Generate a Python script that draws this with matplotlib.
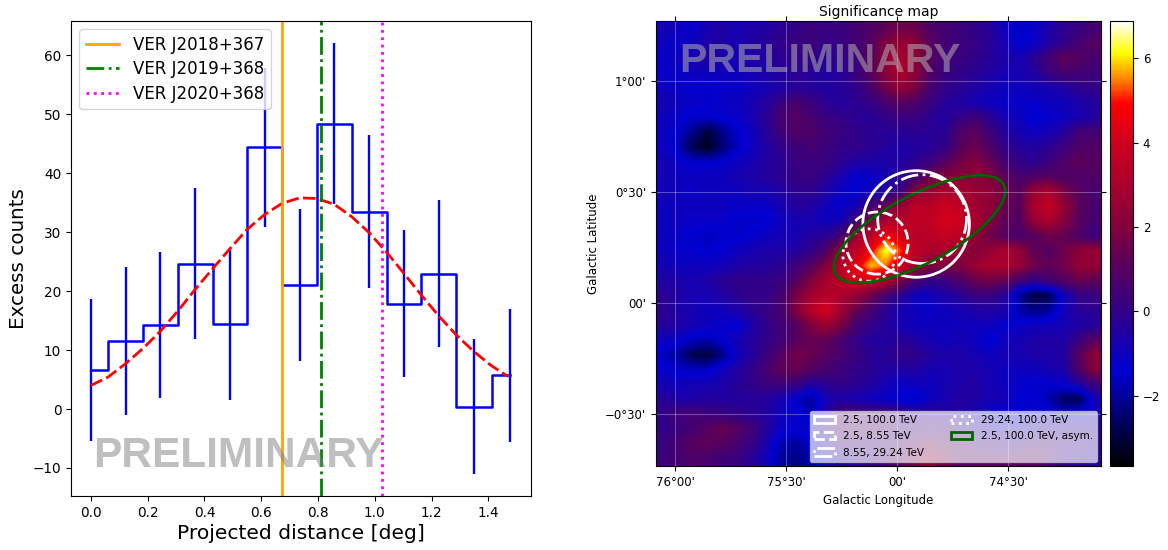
import matplotlib
matplotlib.use('Agg')
import matplotlib.pyplot as plt
import numpy as np
from matplotlib.colors import LinearSegmentedColormap
from matplotlib.patches import Circle, Ellipse, Patch

W, H = 1168, 550

# left panel values
bin_centers = [0.0, 0.1225, 0.245, 0.3675, 0.49, 0.6125, 0.735, 0.8575, 0.98, 1.1025, 1.225, 1.35, 1.475]
excess = [6.6, 11.6, 14.2, 24.6, 14.4, 44.4, 21.0, 48.3, 33.4, 17.8, 22.9, 0.4, 5.8]
err_low = [-5.5, -1.0, 1.8, 11.8, 1.6, 30.8, 8.2, 34.8, 20.6, 5.4, 10.5, -11.0, -5.6]
err_high = [18.6, 24.0, 26.6, 37.4, 27.1, 57.9, 33.9, 62.0, 46.4, 30.3, 35.4, 11.9, 17.0]
fit_x = [0.0, 0.06, 0.1225, 0.184, 0.245, 0.306, 0.3675, 0.429, 0.49, 0.551, 0.6125, 0.674, 0.735,
         0.796, 0.8575, 0.919, 0.98, 1.041, 1.1025, 1.164, 1.225, 1.286, 1.3475, 1.409, 1.47]
fit_y = [4.0, 5.4, 7.7, 10.3, 13.2, 16.6, 20.3, 23.8, 27.2, 30.5, 33.0, 34.9, 35.8,
         35.7, 34.7, 32.6, 29.9, 26.6, 23.0, 19.3, 15.8, 12.6, 9.8, 7.4, 5.5]
source_names = ['VER J2018+367', 'VER J2019+368', 'VER J2020+368']
source_pos = [0.674, 0.81, 1.027]

# right panel values, significance on a coarse grid (top row first)
significance = [
    [-.8, -1, -1.2, -.8, -.5, -.8, -.6, -.5, -.2, 0, .3, .2, .2, .5, .8, 1.2, 1.6, 1.5, .8, .5, .3, 0, -.3, -1, -1.6, -1.2, -.6, -.2, .2, .5],
    [-1, -1.2, -1, -.6, -.5, -.8, -.5, -.3, 0, .2, .3, 0, .2, .5, 1, 2, 2.6, 2.2, 1, .5, .3, .1, -.3, -.8, -1.4, -1.2, -.5, 0, .5, 1],
    [-1.2, -1, -.8, -.5, -.7, -.8, -.5, -.5, -.2, 0, 0, -.3, 0, .3, 1, 2.2, 3, 2.4, 1, .4, .2, 0, -.3, -.6, -.8, -.2, .5, 1.2, 1, .6],
    [-1.2, -1.2, -1, -1, -1, -1, -.8, -.6, -.4, -.2, -.3, -.5, -.3, .2, 1, 2.2, 3, 2.2, .8, .2, 0, -.2, -.5, -.8, -.8, -.5, .2, .6, .5, .3],
    [-1, -1.2, -1.3, -1.3, -1.2, -1.2, -1, -.8, -.6, -.3, -.4, -.5, -.4, 0, .6, 1.6, 2.4, 1.8, .6, 0, -.2, -.5, -.8, -1, -1, -.9, -.8, -.5, -.2, 0],
    [-.8, -1, -1.2, -1.3, -1.2, -1, -.8, -.4, .2, .6, .3, -.2, -.4, -.2, 0, .6, 1, .8, .2, -.3, -.5, -.8, -1, -1.2, -1.2, -1.3, -1, -1, -.6, -.4],
    [-1, -1.2, -1.5, -1.5, -1.3, -1.2, -.8, -.2, .6, 1, .6, .2, 0, -.2, -.3, 0, .2, .2, -.2, -.5, 0, .4, -.2, -.8, -1, -1.5, -1.3, -1, -.8, -.4],
    [-1, -1.5, -2.2, -3, -2.2, -1.5, -1, -.3, .4, .8, .8, .4, .2, 0, -.2, -.3, -.3, -.2, -.3, -.2, .8, 1.2, .3, -.4, -.8, -1, -.8, -.4, .5, .5],
    [-1, -1.6, -2.8, -3.3, -2.4, -1.6, -1, -.5, 0, .3, .5, .3, 0, 0, -.2, -.4, -.6, -.5, -.3, 0, 1, 1.5, .8, 0, -.3, -.5, -.2, .3, .8, .8],
    [-.8, -1.2, -1.5, -1.5, -1.3, -1, -.8, -.4, -.2, .2, .3, .2, -.2, -.5, -.6, -.6, -.5, -.2, .3, 1, 1.6, 2, 1.4, .5, 0, -.2, .3, .8, 1.2, 1],
    [-.8, -1, -1, -1, -1, -.8, -.6, -.4, -.2, .1, .2, -.2, -.8, -1.3, -1.2, -.8, -.2, .4, 1.5, 2, 2.2, 2.2, 2, 1.2, .6, .8, 1, .8, .8, .8],
    [-.9, -1, -1.2, -1, -1, -1, -.8, -.8, -.5, -.2, -.1, -.6, -1.2, -1.4, -1, -.4, .2, 2.2, 2.6, 3, 3, 2.6, 2.4, 1.5, 1, 2.6, 3, 1.8, 1, .6],
    [-1, -1, -1, -1, -1, -1.2, -1.2, -1.2, -.8, -.4, -.5, -1, -1.3, -.8, .5, 1.5, 2.5, 3.6, 3.4, 4, 3.6, 2.8, 2.4, 1.4, 1, 3, 3.8, 2.5, 1.2, .6],
    [-1, -1, -1.2, -1.2, -1.2, -1.5, -1.5, -1.4, -1, -.8, -.8, -1, -.8, .5, 2, 3, 3.4, 3.6, 3.6, 4.2, 4, 3, 2, 1.2, .9, 2.4, 3, 2, 1, .5],
    [-1, -1.2, -1.4, -1.6, -1.5, -1.5, -1.3, -1, -.8, -.8, -.4, -.2, .6, 2.6, 3.5, 4.8, 4.2, 3.4, 3.4, 3.8, 3.4, 2.4, 1.6, 1, .6, 1, 1.5, 1.4, .8, .3],
    [-1, -1.2, -1.3, -1.5, -1.3, -1, -.8, -.6, -.6, -.4, 0, .8, 2.5, 3.6, 4.8, 6.3, 5.2, 3.6, 3, 3, 2.6, 2, 2.4, 3, 2.4, 1.2, 1, 1.5, 2.2, 2.5],
    [-.8, -1, -1, -1, -.9, -.6, -.4, -.4, -.2, .4, 1, 2, 3.5, 4.5, 5.8, 5.4, 4, 2.8, 2, 2, 1.8, 2.6, 3, 3, 2.5, 1.6, 1.2, 1.6, 2.4, 2.4],
    [-.5, -.6, -.8, -.6, -.2, 0, 0, 0, .2, 1, 2, 3, 3.6, 4.2, 4, 3.2, 1.8, .6, 0, .2, .8, 1.4, 1.6, 1.4, .4, 0, .5, 1, 1.4, 1.2],
    [-.2, -.5, -.8, -.8, -.5, -.2, 0, 0, .6, 1.8, 2.8, 3.2, 3, 2.4, 1.5, .5, -.2, -1, -1, -.6, -.3, .2, .2, -.3, -2, -3, -2.8, -1, 0, .2],
    [-.2, -.6, -.8, -1, -1, -.6, -.2, .1, .6, 2, 3.4, 4.2, 2.6, 1.4, .6, -.3, -.8, -1, -1.2, -1, -.8, -.6, -.5, -.6, -1.8, -2.2, -2, -1, -.3, -.2],
    [-.3, -.5, -.8, -1, -1.2, -1.5, -.6, 0, .4, 1, 2, 2.6, 1.8, .5, 0, -.3, -.8, -1, -1, -1, -1, -1, -1, -1.3, -1.2, -1, -1, -.8, -.6, -.4],
    [-1, -1.2, -1.6, -1.8, -1.4, -.8, -.4, 0, .4, 1, 1.4, 1.2, .6, 0, -.4, -.5, -.3, -.5, -.8, -1, -.8, -1, -1.5, -1, -.8, -.6, -.5, -.5, .2, 1],
    [-1.6, -2, -2.8, -3, -2.2, -1, -.4, .3, 1, 1.6, 1.4, 1, .6, .2, -.2, -.3, 0, 0, -.4, -.6, -.6, -.8, -1, -.8, -.8, -.6, -.6, -.5, 1, 2.2],
    [-1.2, -1.5, -1.6, -1.5, -1, -.5, 0, .6, 1.2, 1.4, 1, .6, .3, 0, -.2, -.5, -.5, -.5, -.8, -.8, -.6, -.6, -.8, -1, -1, -1, -.8, -.6, .8, 2],
    [-.8, -1, -.8, -.8, -.6, -.3, 0, .2, .3, .2, -.5, -.2, 0, -.2, -.4, -.8, -1.2, -1, -1, -.8, -.6, -.5, -.8, -1, -1.2, -1.5, -1.4, -1.2, -.6, .3],
    [-.3, -.6, -.6, -.4, -.5, -.4, -.4, -.4, -.8, -1.5, -2, -.8, -.6, -.8, -1, -1.2, -1.4, -1.6, -1, -.8, -.4, -.5, -.8, -.8, -1.4, -1.3, -1.8, -2.6, -2.8, -1],
    [0, .4, .5, .3, .2, 0, -.2, -.5, -1, -1.2, -1.8, -.5, .6, .8, .6, .6, .2, -.2, -.2, -.4, -.5, -.8, -1.2, -1.4, -1.4, -1.2, -1.2, -1.5, -1.2, -.8],
    [0, .2, .6, 1, 1.4, 1, .4, -.4, -1.2, -1.3, -1, -.2, .8, 1, .8, .5, .2, .2, .5, .3, .2, -.2, -.6, -.8, -.8, -.6, -.3, -.3, -.3, -.4],
    [.2, .5, 1, 1.2, 1, .6, .1, -.8, -1.8, -2, -1.4, -.6, .2, .4, .2, .3, .6, 1, 1.4, 1, .6, .3, 0, 0, .2, .4, .3, 0, -.2, -.3],
    [.3, .5, .8, .6, .4, .2, -.3, -1, -2, -2.2, -1.8, -1, -.6, -.2, 0, .5, 1, 1.8, 2.2, 1.6, 1, 1, 1, 1, 1, 1, .6, 0, -.2, -.4],
]
lon_ticks = [76.0, 75.5, 75.0, 74.5]
lon_labels = ["76°00'", "75°30'", "00'", "74°30'"]
lat_ticks = [1.0, 0.5, 0.0, -0.5]
lat_labels = ["1°00'", "0°30'", "00'", "\u22120°30'"]
cbar_ticks = [-2, 0, 2, 4, 6]

# regions: lon, lat, radius
region_names = ['2.5, 100.0 TeV', '2.5, 8.55 TeV', '8.55, 29.24 TeV', '29.24, 100.0 TeV']
region_lon = [74.914, 75.09, 74.887, 75.126]
region_lat = [0.356, 0.270, 0.378, 0.216]
region_r = [0.24, 0.14, 0.20, 0.118]
region_ls = ['-', '--', '-.', ':']
asym_name = '2.5, 100.0 TeV, asym.'
asym_lon, asym_lat = 74.899, 0.333
asym_a, asym_b, asym_angle = 0.429, 0.154, 152.2

cmap = LinearSegmentedColormap.from_list('sig', [
    (0.0, '#000000'), (0.214, '#0000d2'), (0.347, '#320087'), (0.442, '#55005f'), (0.537, '#82003c'),
    (0.632, '#aa002d'), (0.727, '#cd001e'), (0.817, '#ff0000'), (0.87, '#ff8200'), (0.93, '#ffff00'),
    (1.0, '#ffffff')])


def px_axes(fig, x0, y0, x1, y1):
    return fig.add_axes([x0 / W, 1 - y1 / H, (x1 - x0) / W, (y1 - y0) / H])


def main():
    fig = plt.figure(figsize=(W / 100, H / 100), dpi=100)

    ax = px_axes(fig, 71, 21, 531, 496)
    ax.step(bin_centers, excess, where='mid', color='blue', lw=1.8)
    yerr = [np.array(excess) - np.array(err_low), np.array(err_high) - np.array(excess)]
    ax.errorbar(bin_centers, excess, yerr=yerr, fmt='none', ecolor='blue', elinewidth=1.7)
    ax.plot(fit_x, fit_y, color='red', ls=(0, (4.5, 1.6)), lw=2)
    for name, pos, c, ls in zip(source_names, source_pos, ['orange', 'green', 'magenta'], ['-', '-.', ':']):
        ax.axvline(pos, color=c, ls=ls, lw=2, label=name)
    ax.text(0.008, -8.0, 'PRELIMINARY', family='Liberation Sans', weight='bold', fontsize=30.5,
            color='gray', alpha=0.5, va='center', ha='left')
    ax.set_xlim(-0.07, 1.55)
    ax.set_ylim(-14.75, 65.8)
    ax.set_xlabel('Projected distance [deg]', fontsize=14.6, labelpad=3)
    ax.set_ylabel('Excess counts', fontsize=14.3, labelpad=3)
    ax.tick_params(labelsize=9.8)
    ax.legend(loc='upper left', fontsize=12, handlelength=2, labelspacing=0.38)

    ax2 = px_axes(fig, 656, 21, 1101, 466)
    im = ax2.imshow(significance, cmap=cmap, vmin=-3.66, vmax=6.88, extent=(76.086, 74.081, -0.734, 1.27),
                    interpolation='bilinear', aspect='equal')
    for lon, lat, r, ls in zip(region_lon, region_lat, region_r, region_ls):
        ax2.add_patch(Circle((lon, lat), r, fill=False, ec='white', lw=2, ls=ls))
    ax2.add_patch(Ellipse((asym_lon, asym_lat), 2 * asym_a, 2 * asym_b, angle=asym_angle, fill=False, ec='darkgreen', lw=2))
    ax2.text(75.98, 1.09, 'PRELIMINARY', family='Liberation Sans', weight='bold', fontsize=29.6,
             color='#b0b0b0', alpha=0.55, va='center', ha='left')
    ax2.set_xticks(lon_ticks, lon_labels)
    ax2.set_yticks(lat_ticks, lat_labels)
    ax2.grid(color='white', alpha=0.3, lw=0.8)
    ax2.tick_params(labelsize=8.5, top=True, right=True, length=3.5)
    ax2.set_xlabel('Galactic Longitude', fontsize=8.5, labelpad=4)
    ax2.set_ylabel('Galactic Latitude', fontsize=8.5, labelpad=4)
    ax2.set_title('Significance map', fontsize=10, pad=4)
    handles = [Patch(fill=False, ec='white', lw=2, ls=ls, label=n) for n, ls in zip(region_names, region_ls)]
    handles.append(Patch(fill=False, ec='darkgreen', lw=2, label=asym_name))
    ax2.legend(handles=handles, ncol=2, loc='lower right', fontsize=7.5, facecolor='white', framealpha=0.7,
               borderaxespad=0.4, labelspacing=0.6, columnspacing=2.6)

    cax = px_axes(fig, 1110, 21, 1133, 466)
    cb = fig.colorbar(im, cax=cax, ticks=cbar_ticks)
    cb.ax.tick_params(labelsize=8.5, length=3.5)

    plt.savefig('out.png', dpi=100)
    plt.close()


if __name__ == '__main__':
    main()
